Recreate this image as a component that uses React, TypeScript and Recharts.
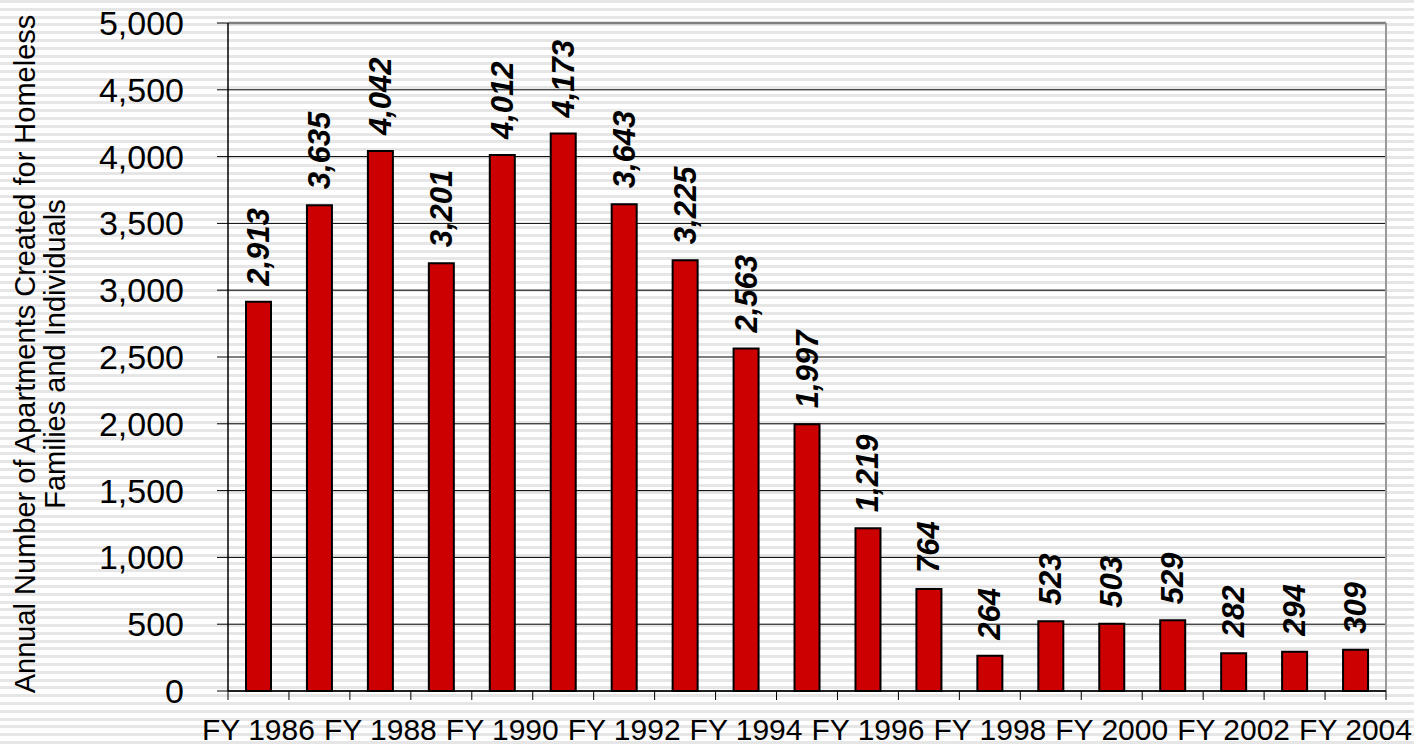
import {
  BarChart, Bar, XAxis, YAxis, CartesianGrid, ReferenceLine, LabelList, Label,
} from 'recharts';

// Fiscal years on the category axis
const CATEGORIES = [
  'FY 1986', 'FY 1987', 'FY 1988', 'FY 1989', 'FY 1990', 'FY 1991', 'FY 1992',
  'FY 1993', 'FY 1994', 'FY 1995', 'FY 1996', 'FY 1997', 'FY 1998', 'FY 1999',
  'FY 2000', 'FY 2001', 'FY 2002', 'FY 2003', 'FY 2004',
];

// Apartments created per year
const APARTMENTS = [
  2913, 3635, 4042, 3201, 4012, 4173, 3643, 3225, 2563, 1997,
  1219, 764, 264, 523, 503, 529, 282, 294, 309,
];

const Y_TICKS = [0, 500, 1000, 1500, 2000, 2500, 3000, 3500, 4000, 4500, 5000];

const TITLE_LINES = [
  'Annual Number of Apartments Created for Homeless',
  'Families and Individuals',
];

const FONT = '"Liberation Sans", Arial, sans-serif';
const fmt = (v: number) => v.toLocaleString('en-US');

const data = CATEGORIES.map((year, i) => ({ year, value: APARTMENTS[i], idx: i + 0.5 }));

// category tick: marks on the band edges, label on every other year
const YearTick = (props: any) => {
  const { x, y, index, payload } = props;
  const half = payload && typeof payload.offset === 'number' && payload.offset > 0 ? payload.offset : 30.47;
  const last = index === CATEGORIES.length - 1;
  return (
    <g>
      <line x1={x - half} x2={x - half} y1={y} y2={y + 9} stroke="#000" strokeWidth={1} />
      {last && <line x1={x + half} x2={x + half} y1={y} y2={y + 9} stroke="#000" strokeWidth={1} />}
      {index % 2 === 0 && (
        <text x={x} y={y + 28} dy="0.71em" textAnchor="middle" fontFamily={FONT} fontSize={30} fill="#000">
          {payload.value}
        </text>
      )}
    </g>
  );
};

const ValueLabel = (props: any) => {
  const { x, y, width, value } = props;
  const cx = Number(x) + Number(width) / 2;
  return (
    <text
      transform={`translate(${cx},${Number(y) - 16}) rotate(-90)`}
      textAnchor="start"
      dominantBaseline="central"
      fontFamily={FONT}
      fontSize={31}
      fontWeight="bold"
      fontStyle="italic"
      fill="#000"
    >
      {fmt(value)}
    </text>
  );
};

const AxisTitle = (props: any) => {
  const vb = props.viewBox || { x: 0, y: 23, width: 228, height: 668 };
  const cy = vb.y + vb.height / 2 - 3;
  const xs = [vb.x + 35, vb.x + 65];
  return (
    <g>
      {TITLE_LINES.map((line, i) => (
        <text
          key={i}
          transform={`translate(${xs[i]},${cy}) rotate(-90)`}
          textAnchor="middle"
          fontFamily={FONT}
          fontSize={29}
          fill="#000"
        >
          {line}
        </text>
      ))}
    </g>
  );
};

export default function App() {
  return (
    <div
      style={{
        position: 'absolute', left: 0, top: 0, width: 1414, height: 748,
        background: 'repeating-linear-gradient(to bottom, #e6e6e6 0px, #e6e6e6 3px, #ffffff 3px, #ffffff 7.8px)',
        fontFamily: FONT,
      }}
    >
      <BarChart width={1414} height={748} data={data} margin={{ top: 23, right: 28, left: 0, bottom: 0 }}>
        <CartesianGrid vertical={false} stroke="#000" strokeWidth={1} />
        <XAxis
          dataKey="year"
          interval={0}
          height={57}
          tickLine={false}
          tickSize={0}
          tickMargin={0}
          axisLine={{ stroke: '#000', strokeWidth: 1.5 }}
          tick={<YearTick />}
        />
        <XAxis xAxisId="edges" type="number" dataKey="idx" domain={[0, 19]} allowDataOverflow hide />
        <YAxis
          domain={[0, 5000]}
          ticks={Y_TICKS}
          width={228}
          tickSize={11}
          tickMargin={33}
          tickFormatter={fmt}
          axisLine={{ stroke: '#000', strokeWidth: 1.5 }}
          tickLine={{ stroke: '#000', strokeWidth: 1 }}
          tick={{ fill: '#000', fontSize: 34, fontFamily: FONT }}
        >
          <Label content={<AxisTitle />} />
        </YAxis>
        <ReferenceLine y={5000} stroke="#808080" strokeWidth={2.5} />
        <ReferenceLine xAxisId="edges" x={19} stroke="#999" strokeWidth={2} />
        <Bar dataKey="value" fill="#cc0000" stroke="#000" strokeWidth={2} barSize={25} isAnimationActive={false}>
          <LabelList dataKey="value" content={<ValueLabel />} />
        </Bar>
      </BarChart>
    </div>
  );
}
